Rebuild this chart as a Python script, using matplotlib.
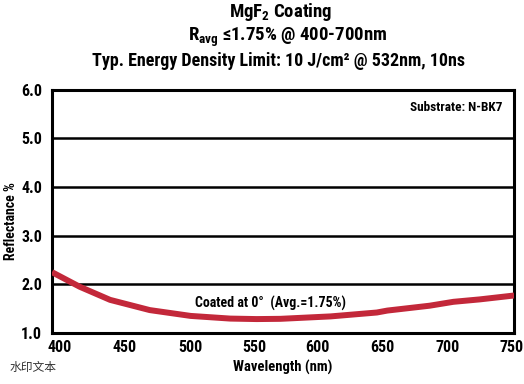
import matplotlib
matplotlib.use("Agg")
import matplotlib.pyplot as plt
from matplotlib.transforms import ScaledTranslation

# datos de la curva
longitud_onda = [400, 421, 444, 474, 505, 535, 555, 573, 611, 646, 654, 686, 704, 724, 750]
reflectancia = [2.25, 1.95, 1.68, 1.47, 1.35, 1.295, 1.285, 1.29, 1.34, 1.42, 1.46, 1.56, 1.64, 1.69, 1.77]

ticks_x = [400, 450, 500, 550, 600, 650, 700, 750]
ticks_y = [1.0, 2.0, 3.0, 4.0, 5.0, 6.0]

familia = ["Roboto Condensed", "DejaVu Sans"]
fuente = dict(family=familia, weight="bold")
fuente_titulo = dict(family=familia, weight="heavy")
plt.rcParams["mathtext.fontset"] = "custom"
plt.rcParams["mathtext.rm"] = "Roboto Condensed:heavy"
plt.rcParams["mathtext.it"] = "Roboto Condensed:heavy"
plt.rcParams["mathtext.bf"] = "Roboto Condensed:heavy"

fig = plt.figure(figsize=(5.24, 3.84), dpi=100)
ax = fig.add_axes([0.0992, 0.133, 0.882, 0.633])

ax.plot(longitud_onda, reflectancia, color="#C3283A", linewidth=4.3, solid_capstyle="butt", zorder=3)

ax.set_xlim(400, 750)
ax.set_ylim(1.0, 6.0)
ax.set_xticks(ticks_x)
ax.set_yticks(ticks_y)
ax.set_xticklabels([str(t) for t in ticks_x], fontsize=11.5, **fuente)
ax.set_yticklabels([f"{t:.1f}" for t in ticks_y], fontsize=11.5, **fuente)
ax.tick_params(length=0, pad=5)
ax.tick_params(axis="y", pad=7)
# las etiquetas del eje x estan algo corridas hacia el centro en el original
desplaz = [8, 7, 6, 4, 1.5, 0, -0.5, -3]
for lab, d in zip(ax.get_xticklabels(), desplaz):
    lab.set_transform(lab.get_transform() + ScaledTranslation(d / 100, 0, fig.dpi_scale_trans))
ax.grid(axis="y", color="black", linewidth=1.8)
for s in ax.spines.values():
    s.set_linewidth(2.2)

ax.set_xlabel("Wavelength (nm)", fontsize=10.5, labelpad=4, **fuente)
ax.set_ylabel("Reflectance %", fontsize=10, **fuente)
ax.yaxis.set_label_coords(-0.074, 0.46)

ax.text(0.975, 0.955, "Substrate: N-BK7", transform=ax.transAxes, ha="right", va="top", fontsize=9.5, **fuente)
ax.text(0.472, 0.12, "Coated at 0°  (Avg.=1.75%)", transform=ax.transAxes, ha="center", va="center", fontsize=10, **fuente)

# titulo
fig.text(281 / 524, 0.968, r"MgF$_{\mathrm{2}}$ Coating", ha="center", va="center", fontsize=13.5, **fuente_titulo)
fig.text(288 / 524, 0.902, r"R$_{\mathrm{avg}}$ ≤1.75% @ 400-700nm", ha="center", va="center", fontsize=13.5, **fuente_titulo)
fig.text(279 / 524, 0.840, "Typ. Energy Density Limit: 10 J/cm² @ 532nm, 10ns", ha="center", va="center", fontsize=13, **fuente_titulo)

fig.text(0.018, 0.042, "水印文本", ha="left", va="center", fontsize=8.5, color="#333333", family=["Noto Sans CJK SC", "DejaVu Sans"])

fig.savefig("out.png", dpi=100)
